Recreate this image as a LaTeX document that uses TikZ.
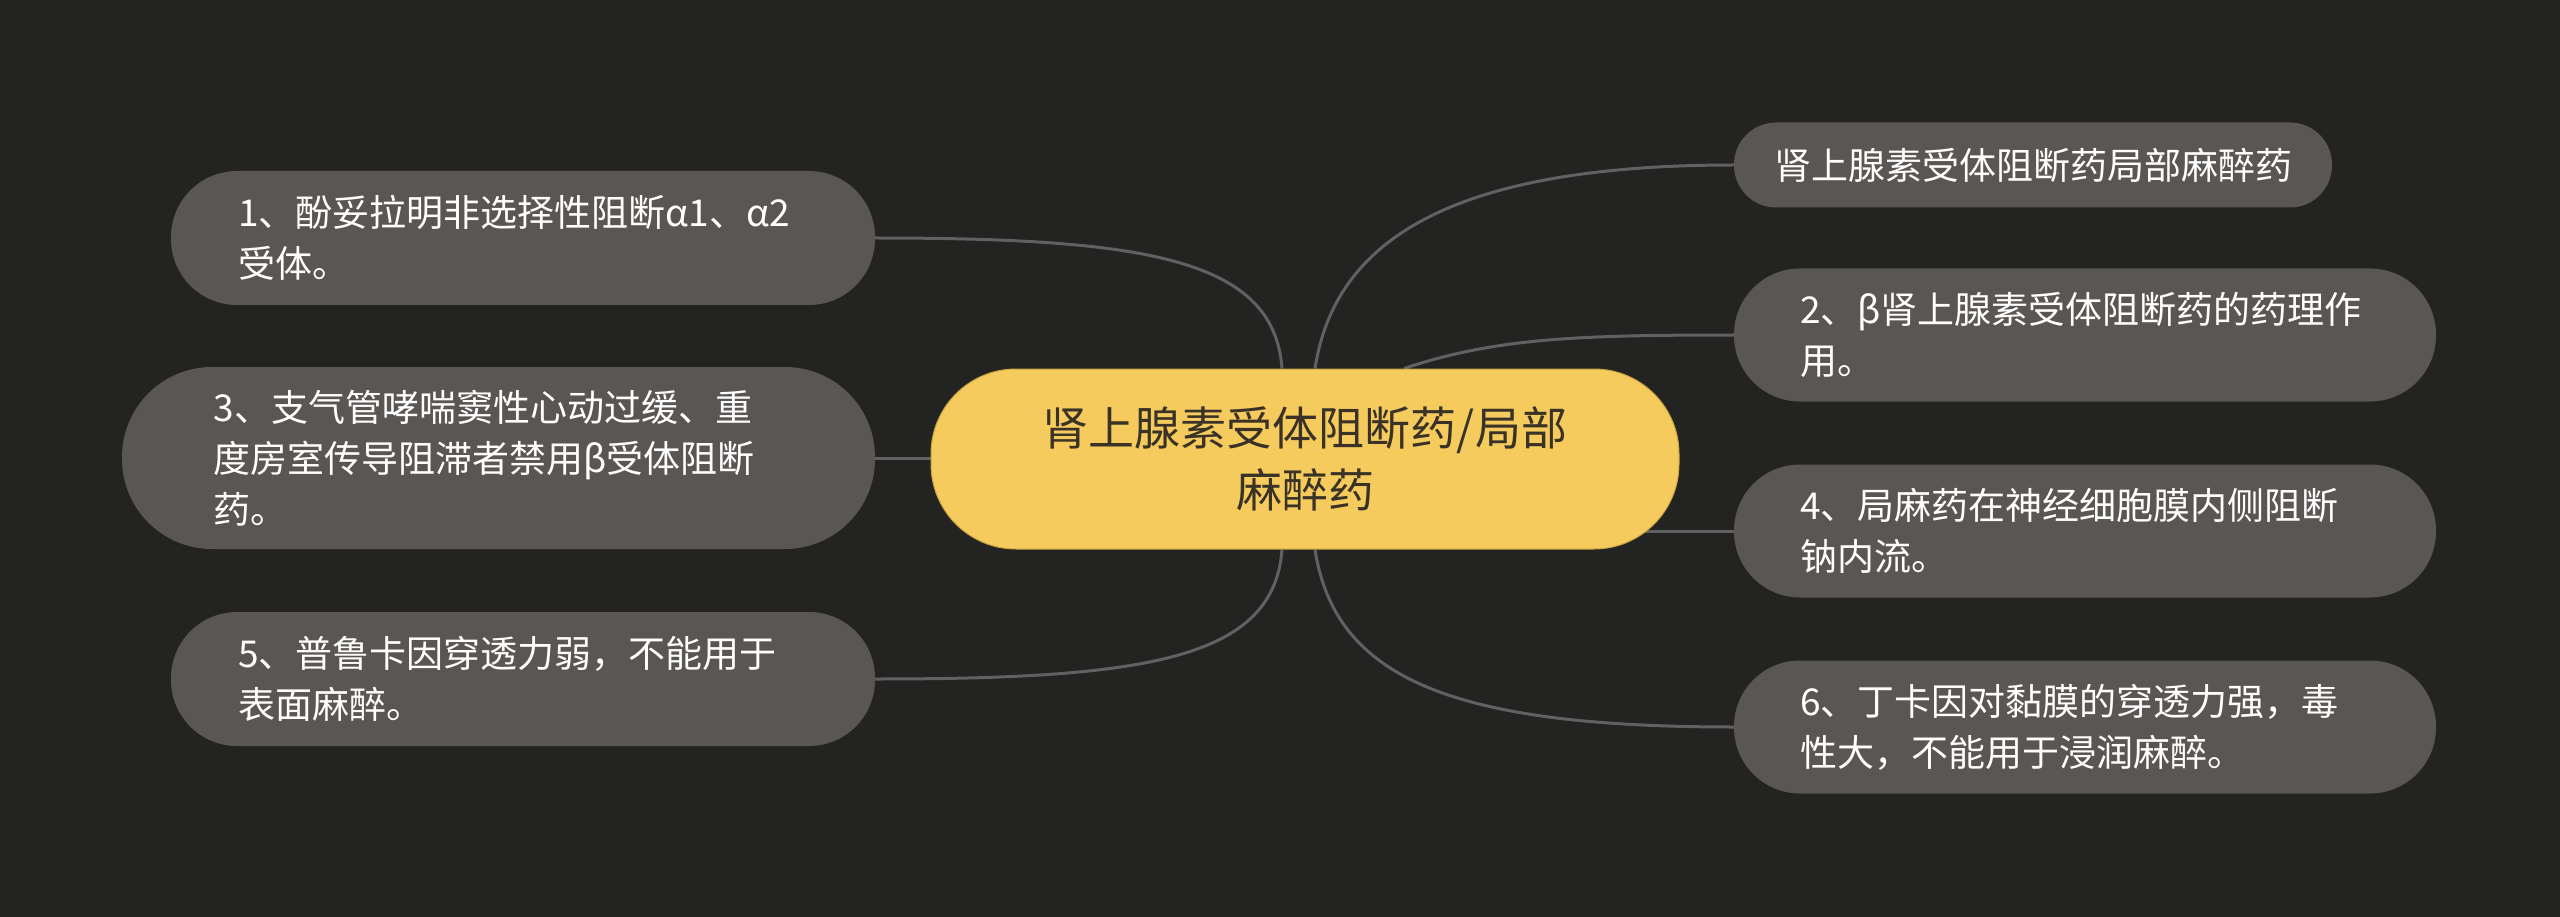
\documentclass[tikz,border=0pt]{standalone}
\usepackage{fontspec}
\newfontfamily\cjk{Noto Sans CJK SC}
\usetikzlibrary{calc}
\pgfdeclarelayer{bg}
\pgfsetlayers{bg,main}
\definecolor{bgc}{HTML}{232322}
\definecolor{nodec}{HTML}{5A5653}
\definecolor{mainc}{HTML}{F4CB5C}
\definecolor{mainborder}{HTML}{C9A441}
\definecolor{linec}{HTML}{616161}
\definecolor{maintext}{HTML}{3A3226}
\tikzset{
  leaf/.style={fill=nodec, text=white, font=\cjk\fontsize{37}{51}\selectfont,
    align=left, inner sep=0pt, rounded corners=#1},
  multi/.style={text width=570pt},
  hub/.style={fill=mainc, draw=mainborder, line width=1pt, text=maintext,
    font=\cjk\fontsize{46}{62}\selectfont, align=center, inner sep=0pt,
    minimum width=748pt, minimum height=180pt, rounded corners=85pt},
  link/.style={draw=linec, line width=3pt}
}
\begin{document}
\begin{tikzpicture}[x=1pt,y=1pt]
\begin{pgfonlayer}{bg}
\fill[bgc] (0,0) rectangle (2560,-917);
\end{pgfonlayer}
\useasboundingbox (0,0) rectangle (2560,-917);

\node[hub] (c) at (1305,-459) {肾上腺素受体阻断药/局部\\麻醉药};

\node[leaf=42pt, minimum width=598pt, minimum height=85pt] (r1) at (2033,-165) {肾上腺素受体阻断药局部麻醉药};
\node[leaf=66pt, multi, minimum width=702pt, minimum height=133pt] (r2) at (2085,-335) {2、β肾上腺素受体阻断药的药理作\\用。};
\node[leaf=66pt, multi, minimum width=702pt, minimum height=133pt] (r4) at (2085,-531) {4、局麻药在神经细胞膜内侧阻断\\钠内流。};
\node[leaf=66pt, multi, minimum width=702pt, minimum height=133pt] (r6) at (2085,-727) {6、丁卡因对黏膜的穿透力强，毒\\性大，不能用于浸润麻醉。};

\node[leaf=66pt, multi, minimum width=704pt, minimum height=134pt] (l1) at (523,-238) {1、酚妥拉明非选择性阻断α1、α2\\受体。};
\node[leaf=90pt, multi, minimum width=753pt, minimum height=182pt] (l3) at (498.5,-458) {3、支气管哮喘窦性心动过缓、重\\度房室传导阻滞者禁用β受体阻断\\药。};
\node[leaf=66pt, multi, minimum width=704pt, minimum height=134pt] (l5) at (523,-679) {5、普鲁卡因穿透力弱，不能用于\\表面麻醉。};

\begin{pgfonlayer}{bg}
\draw[link] (l1.east) .. controls +(270,0) and +(-8,110) .. ([xshift=-23pt]c.north);
\draw[link] (l3.east) -- (c.west |- l3.east);
\draw[link] (l5.east) .. controls +(270,0) and +(-8,-110) .. ([xshift=-23pt]c.south);
\draw[link] ([xshift=10pt]c.north) .. controls +(20,130) and +(-280,0) .. (r1.west);
\draw[link] ([xshift=99pt]c.north) .. controls +(90,30) and +(-160,0) .. (r2.west);
\draw[link] (r4.west) -- ([xshift=-40pt]c.east |- r4.west);
\draw[link] ([xshift=10pt]c.south) .. controls +(20,-130) and +(-280,0) .. (r6.west);
\end{pgfonlayer}
\end{tikzpicture}
\end{document}
